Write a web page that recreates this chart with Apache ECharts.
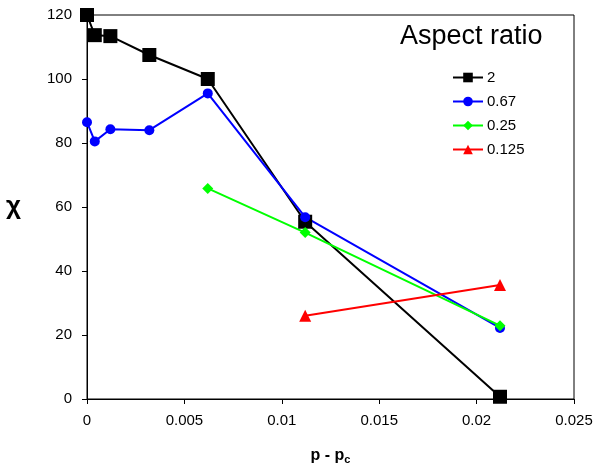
<!DOCTYPE html>
<html>
<head>
<meta charset="utf-8">
<script src="https://cdn.jsdelivr.net/npm/echarts@6/dist/echarts.min.js"></script>
<style>
  html, body { margin: 0; padding: 0; background: #fff; }
  #chart { width: 594px; height: 467px; }
</style>
</head>
<body>
<div id="chart"></div>
<script>
// data
var xVals = [0, 0.0004, 0.0012, 0.0032, 0.0062, 0.0112, 0.0212];
var ratio2 = [120, 113.7, 113.4, 107.5, 100, 55.4, 0.7];
var ratio067 = [86.5, 80.5, 84.3, 84, 95.5, 56.8, 22.2];
var ratio025 = [null, null, null, null, 65.8, 52, 22.9];
var ratio0125 = [null, null, null, null, null, 26, 35.6];
var seriesNames = ['2', '0.67', '0.25', '0.125'];
var xTicks = [0, 0.005, 0.01, 0.015, 0.02, 0.025];
var yTicks = [0, 20, 40, 60, 80, 100, 120];

function pairs(ys) {
  var out = [];
  for (var i = 0; i < xVals.length; i++) {
    if (ys[i] !== null) out.push([xVals[i], ys[i]]);
  }
  return out;
}

var chartDom = document.getElementById('chart');
var myChart = echarts.init(chartDom);
var font = 'Liberation Sans, Arial, sans-serif';

function mkSeries(name, ys, color, symbol, size) {
  return {
    name: name,
    type: 'line',
    data: pairs(ys),
    symbol: symbol,
    symbolSize: size,
    lineStyle: { color: color, width: 2 },
    itemStyle: { color: color },
    animation: false
  };
}

var option = {
  backgroundColor: '#fff',
  title: {
    text: 'Aspect ratio',
    left: 395,
    top: 18,
    textStyle: { fontFamily: font, fontSize: 27, fontWeight: 'normal', color: '#000' }
  },
  legend: {
    orient: 'vertical',
    left: 447,
    top: 65,
    itemWidth: 30,
    itemHeight: 12,
    itemGap: 9,
    data: seriesNames,
    textStyle: { fontFamily: font, fontSize: 15, color: '#000', padding: [0, 0, 0, -1] }
  },
  grid: {
    left: 87,
    right: 20,
    top: 15,
    bottom: 68,
    outerBoundsMode: 'none',
    show: true,
    borderColor: '#000',
    borderWidth: 1
  },
  xAxis: {
    type: 'value',
    min: xTicks[0],
    max: xTicks[xTicks.length - 1],
    interval: 0.005,
    name: '{b|p - p}{s|c}',
    nameLocation: 'middle',
    nameGap: 47,
    nameTextStyle: {
      rich: {
        b: { fontFamily: font, fontSize: 16, fontWeight: 'bold', color: '#000' },
        s: { fontFamily: font, fontSize: 11, fontWeight: 'bold', color: '#000', padding: [8, 0, 0, 0] }
      }
    },
    axisLine: { lineStyle: { color: '#000', width: 1 } },
    axisTick: { show: true, length: 5, lineStyle: { color: '#000' } },
    splitLine: { show: false },
    axisLabel: {
      fontFamily: font, fontSize: 15, color: '#000', margin: 14,
      formatter: function (v) { return String(Number(v.toFixed(3))); }
    }
  },
  yAxis: {
    type: 'value',
    min: yTicks[0],
    max: yTicks[yTicks.length - 1],
    interval: 20,
    name: 'χ',
    nameLocation: 'middle',
    nameGap: 66,
    nameRotate: 0,
    nameTextStyle: { fontFamily: font, fontSize: 26, fontWeight: 'bold', color: '#000' },
    axisLine: { show: true, lineStyle: { color: '#000', width: 1 } },
    axisTick: { show: true, length: 5, lineStyle: { color: '#000' } },
    splitLine: { show: false },
    axisLabel: { fontFamily: font, fontSize: 15, color: '#000', margin: 15 }
  },
  series: [
    mkSeries(seriesNames[0], ratio2, '#000000', 'rect', 14),
    mkSeries(seriesNames[1], ratio067, '#0000ff', 'circle', 10),
    mkSeries(seriesNames[2], ratio025, '#00ff00', 'diamond', 11),
    mkSeries(seriesNames[3], ratio0125, '#ff0000', 'triangle', 12)
  ]
};

option && myChart.setOption(option);
</script>
</body>
</html>
